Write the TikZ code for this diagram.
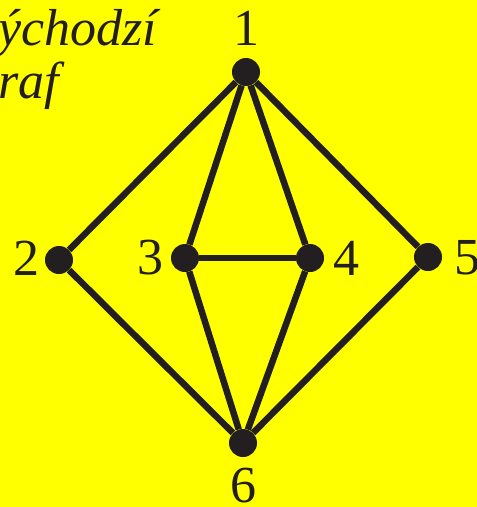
\documentclass[tikz,border=0pt]{standalone}
\usepackage{fontspec}
\setmainfont{Liberation Serif}
\usetikzlibrary{positioning}
\definecolor{bgyellow}{RGB}{255,255,0}
\definecolor{ink}{RGB}{35,31,32}
\tikzset{vx/.style={circle,fill=ink,minimum size=28pt,inner sep=0pt},edge/.style={draw=ink,line width=6.5pt},num/.style={inner sep=0pt,text=ink,font=\fontsize{52}{52}\selectfont},capt/.style={inner sep=0pt,anchor=base west,text=ink,font=\fontsize{52}{52}\selectfont\itshape}}
\begin{document}
\begin{tikzpicture}[x=1pt,y=-1pt]
\fill[bgyellow] (0,0) rectangle (477,507);
\useasboundingbox (0,0) rectangle (477,507);
\node[capt] (t1) at (-2,45) {ýchodzí};
\node[capt] (t2) at (-2,98) {raf};
\node[vx] (v1) at (246,72) {};
\node[vx] (v2) at (59,260) {};
\node[vx] (v3) at (185,258) {};
\node[vx] (v4) at (310,258) {};
\node[vx] (v5) at (428,257) {};
\node[vx] (v6) at (243,443) {};
\node[num] (n1) at (246,28) {1};
\node[num] (n2) at (26,258) {2};
\node[num] (n3) at (150,258) {3};
\node[num] (n4) at (346,258) {4};
\node[num] (n5) at (467,258) {5};
\node[num] (n6) at (243,486) {6};
\draw[edge] (v1)--(v2);\draw[edge] (v1)--(v3);\draw[edge] (v1)--(v4);\draw[edge] (v1)--(v5);
\draw[edge] (v3)--(v4);
\draw[edge] (v2)--(v6);\draw[edge] (v3)--(v6);\draw[edge] (v4)--(v6);\draw[edge] (v5)--(v6);
\end{tikzpicture}
\end{document}
